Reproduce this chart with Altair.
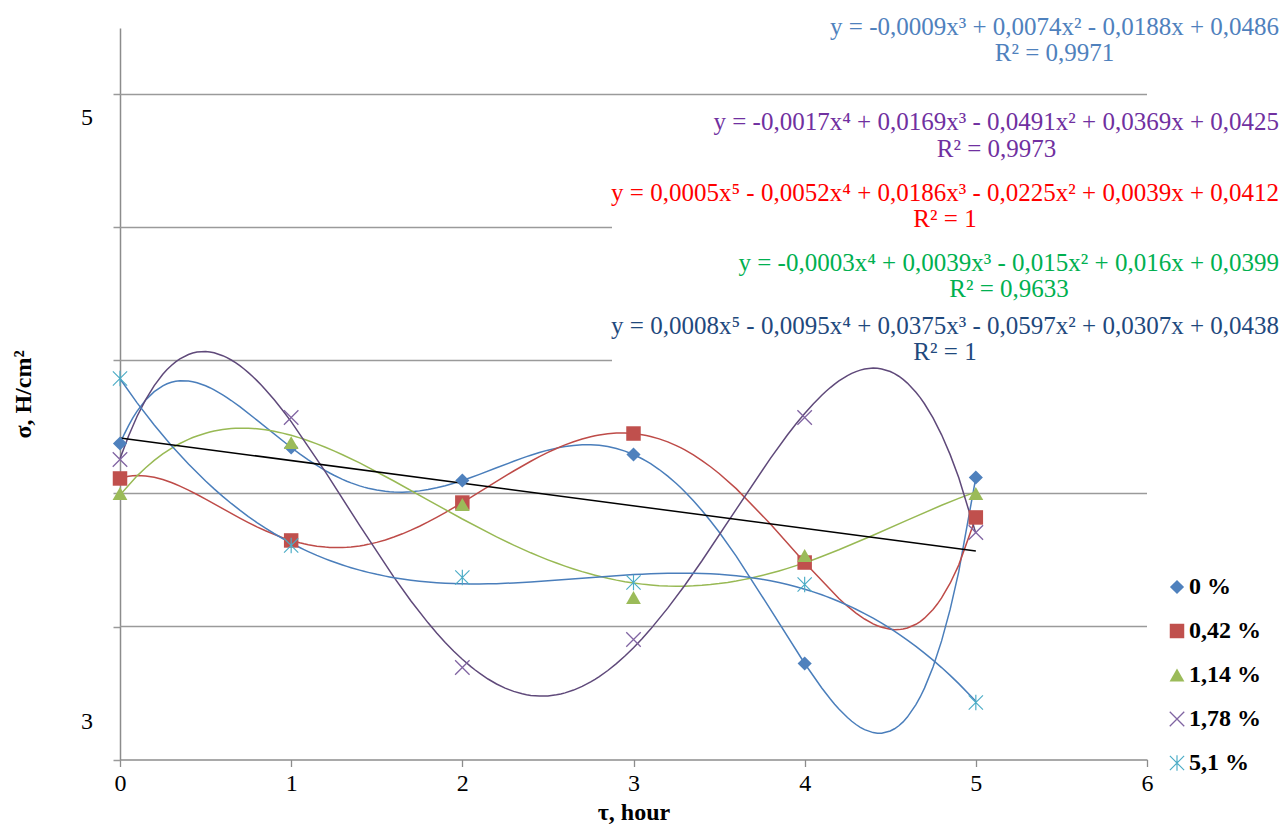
import math
import altair as alt
import pandas as pd

# ---------------- data ----------------
HOURS = [0, 1, 2, 3, 4, 5]
SERIES = ["0 %", "0,42 %", "1,14 %", "1,78 %", "5,1 %"]
SIGMA_0 = [0.04376, 0.04346, 0.04098, 0.04293, 0.02722, 0.04120]
SIGMA_042 = [0.04113, 0.03647, 0.03932, 0.04451, 0.03481, 0.03820]
SIGMA_114 = [0.04000, 0.04383, 0.03917, 0.03218, 0.03534, 0.04000]
SIGMA_178 = [0.04256, 0.04571, 0.02692, 0.02902, 0.04571, 0.03707]
SIGMA_51 = [0.04865, 0.03609, 0.03368, 0.03331, 0.03316, 0.02429]
SIGMA = [SIGMA_0, SIGMA_042, SIGMA_114, SIGMA_178, SIGMA_51]
TREND_ORDER = [5, 5, 4, 4, 3]

GRID_LEVELS = [0.03, 0.04, 0.05, 0.06, 0.07]
X_TICKS = [0, 1, 2, 3, 4, 5, 6]
Y_TICKS = [0.02, 0.03, 0.04, 0.05, 0.06, 0.07]
Y_TEXT_LABELS = ["5", "3"]

EQUATIONS = [
    "y = -0,0009x³ + 0,0074x² - 0,0188x + 0,0486",
    "y = -0,0017x⁴ + 0,0169x³ - 0,0491x² + 0,0369x + 0,0425",
    "y = 0,0005x⁵ - 0,0052x⁴ + 0,0186x³ - 0,0225x² + 0,0039x + 0,0412",
    "y = -0,0003x⁴ + 0,0039x³ - 0,015x² + 0,016x + 0,0399",
    "y = 0,0008x⁵ - 0,0095x⁴ + 0,0375x³ - 0,0597x² + 0,0307x + 0,0438",
]
R2_TEXT = ["R² = 0,9971", "R² = 0,9973", "R² = 1", "R² = 0,9633", "R² = 1"]

# ---------------- styles / placement ----------------
FONT = "Liberation Serif"
MARKER_COLORS = ["#4F81BD", "#C0504D", "#9BBB59", "#8064A2", "#4BACC6"]
TREND_COLORS = ["#4A7EBB", "#BE4B48", "#98B954", "#5F497A", "#4A7EBB"]
EQ_COLORS = ["#4F81BD", "#7030A0", "#FF0000", "#00B050", "#1F497D"]
GRID_COLOR = "#9A9A9A"
AXIS_COLOR = "#8C8C8C"


def bars_path(specs, half_w):
    parts = []
    for ang, half_len in specs:
        a = math.radians(ang)
        ux, uy = math.cos(a), math.sin(a)
        nx, ny = -uy, ux
        pts = [(-half_len * ux - half_w * nx, -half_len * uy - half_w * ny),
               (half_len * ux - half_w * nx, half_len * uy - half_w * ny),
               (half_len * ux + half_w * nx, half_len * uy + half_w * ny),
               (-half_len * ux + half_w * nx, -half_len * uy + half_w * ny)]
        parts.append("M" + "L".join(f"{px:.3f},{py:.3f}" for px, py in pts) + "Z")
    return "".join(parts)


X_PATH = bars_path([(45, 1.35), (135, 1.35)], 0.085)
STAR_PATH = bars_path([(45, 1.3), (135, 1.3), (90, 1.0)], 0.075)
SHAPES = ["diamond", "square", "triangle-up", X_PATH, STAR_PATH]
SIZES = [200, 240, 270, 170, 170]

# plot-area geometry (pixels)
PLOT_W = 1027
PLOT_H = 731.5
X_DOMAIN = [0, 6]
Y_DOMAIN = [0.02, 0.075]


def hx(px):  # page px -> hours
    return (px - 120) / (PLOT_W / 6)


def sy(py):  # page px -> sigma
    return 0.02 + (760 - py) / (PLOT_H / 0.055)


EQ_RIGHT = 1279
EQ_WIDTHS = [449, 565, 668, 540, 668]
EQ_Y = [27, 122, 193, 263, 326]
R2_Y = [53, 149, 219, 289, 352]
GRID_END = [6, 6, hx(612), hx(612), 6]

rows = [{"hour": h, "sigma": v, "series": s}
        for s, vals in zip(SERIES, SIGMA) for h, v in zip(HOURS, vals)]
df = pd.DataFrame(rows)

x_axis = alt.Axis(values=X_TICKS, format="d", grid=False, labelFont=FONT, labelFontSize=24,
                  labelColor="black", labelPadding=5, labelFlush=False, tickColor=AXIS_COLOR,
                  tickSize=7, tickWidth=1.3, domainColor=AXIS_COLOR, domainWidth=1.5,
                  title="τ, hour", titleFont=FONT, titleFontSize=24, titleFontWeight="bold",
                  titleColor="black", titleY=60, titleBaseline="alphabetic")
y_axis = alt.Axis(values=Y_TICKS, labels=False, grid=False, tickColor=GRID_COLOR, tickSize=7,
                  tickWidth=1.5, domainColor=AXIS_COLOR, domainWidth=1.5,
                  title="σ, H/cm²", titleFont=FONT, titleFontSize=24, titleFontWeight="bold",
                  titleColor="black", titleAngle=270, titleX=-90, titleY=366,
                  titleBaseline="alphabetic", titleAlign="center")

X = alt.X("hour:Q", scale=alt.Scale(domain=X_DOMAIN, nice=False, zero=False), axis=x_axis)
Y = alt.Y("sigma:Q", scale=alt.Scale(domain=Y_DOMAIN, nice=False, zero=False), axis=y_axis)

layers = []

grid_df = pd.DataFrame({"sigma": GRID_LEVELS, "hour": [0] * len(GRID_LEVELS), "hour_end": GRID_END})
layers.append(alt.Chart(grid_df).mark_rule(color=GRID_COLOR, strokeWidth=1.5)
              .encode(x=X, x2="hour_end:Q", y=Y))

for s, order, color in zip(SERIES, TREND_ORDER, TREND_COLORS):
    layers.append(
        alt.Chart(df).transform_filter(alt.datum.series == s)
        .transform_regression("hour", "sigma", method="poly", order=order, extent=[0, 5])
        .mark_line(color=color, strokeWidth=1.5)
        .encode(x=X, y=Y)
    )

layers.append(
    alt.Chart(df).transform_filter(alt.datum.series == SERIES[0])
    .transform_regression("hour", "sigma", method="linear", extent=[0, 5])
    .mark_line(color="black", strokeWidth=1.5)
    .encode(x=X, y=Y)
)

legend = alt.Legend(title=None, orient="none", legendX=1045, legendY=547, padding=0,
                    labelFont=FONT, labelFontSize=24, labelFontWeight="bold", labelColor="black",
                    symbolSize=160, symbolStrokeWidth=0, rowPadding=20, labelOffset=0)
layers.append(
    alt.Chart(df).mark_point(filled=True, opacity=1, strokeWidth=0)
    .encode(
        x=X, y=Y,
        color=alt.Color("series:N", scale=alt.Scale(domain=SERIES, range=MARKER_COLORS), legend=legend),
        shape=alt.Shape("series:N", scale=alt.Scale(domain=SERIES, range=SHAPES), legend=legend),
        size=alt.Size("series:N", scale=alt.Scale(domain=SERIES, range=SIZES), legend=None),
    )
)

# equation annotations
for eq, r2, c, w, ey, ry in zip(EQUATIONS, R2_TEXT, EQ_COLORS, EQ_WIDTHS, EQ_Y, R2_Y):
    eq_df = pd.DataFrame({"hour": [hx(EQ_RIGHT)], "sigma": [sy(ey)], "txt": [eq]})
    r2_df = pd.DataFrame({"hour": [hx(EQ_RIGHT - w / 2)], "sigma": [sy(ry)], "txt": [r2]})
    layers.append(alt.Chart(eq_df).mark_text(font=FONT, fontSize=25, color=c, align="right",
                                             baseline="middle")
                  .encode(x=X, y=Y, text="txt:N"))
    layers.append(alt.Chart(r2_df).mark_text(font=FONT, fontSize=25, color=c, align="center",
                                             baseline="middle")
                  .encode(x=X, y=Y, text="txt:N"))

# the two stray y tick labels
ylab_df = pd.DataFrame({"hour": [hx(93), hx(93)], "sigma": [sy(118), sy(722.5)], "txt": Y_TEXT_LABELS})
layers.append(alt.Chart(ylab_df).mark_text(font=FONT, fontSize=24, color="black", align="right",
                                           baseline="middle")
              .encode(x=X, y=Y, text="txt:N"))

chart = alt.layer(*layers).properties(
    width=PLOT_W, height=PLOT_H,
    padding={"left": 112, "top": 20, "right": 133, "bottom": 67},
    autosize=alt.AutoSizeParams(type="none"),
    background="white",
).configure_view(stroke=None)

chart.save("out.html", embed_options={"renderer": "svg", "actions": False})
